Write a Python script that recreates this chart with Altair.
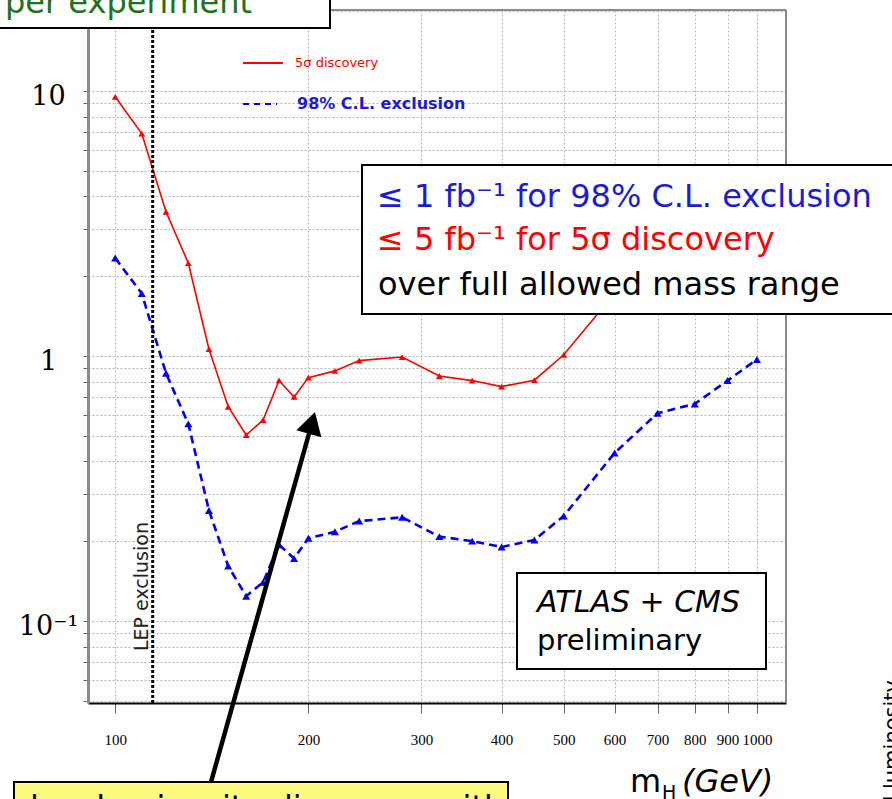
import altair as alt
import pandas as pd

# ---- data ----
mass = [100, 110, 120, 130, 140, 150, 160, 170, 180, 190, 200, 220, 240, 280,
        320, 360, 400, 450, 500, 600, 700, 800, 900, 1000]
lumi_discovery = [9.5, 6.9, 3.5, 2.24, 1.06, 0.643, 0.503, 0.573, 0.808, 0.70,
                  0.828, 0.878, 0.96, 0.99, 0.84, 0.807, 0.766, 0.81, 1.01,
                  1.72, 2.4, 3.0, 3.6, 4.2]
lumi_exclusion = [2.34, 1.72, 0.86, 0.554, 0.261, 0.161, 0.124, 0.14, 0.194,
                  0.172, 0.205, 0.217, 0.238, 0.246, 0.208, 0.2, 0.19, 0.202,
                  0.249, 0.43, 0.608, 0.659, 0.807, 0.97]
lep_limit = [114.4]
x_ticks = [100, 200, 300, 400, 500, 600, 700, 800, 900, 1000]
y_grid = [0.05, 0.06, 0.07, 0.08, 0.09,
          0.1, 0.2, 0.3, 0.4, 0.5, 0.6, 0.7, 0.8, 0.9,
          1, 2, 3, 4, 5, 6, 7, 8, 9, 10, 20]

df = pd.DataFrame({"mass": mass, "disc": lumi_discovery, "excl": lumi_exclusion})
lep = pd.DataFrame({"m": lep_limit})
one = pd.DataFrame({"k": [0]})

W, H = 698, 693
RED = "#ff0000"
BLUE = "#0000f0"
BLUE_TXT = "#1c1cd0"
SANS = "DejaVu Sans"

xs = alt.Scale(type="log", domain=[90.7, 1110], nice=False)
ys = alt.Scale(type="log", domain=[0.049, 20.2], nice=False)

x_axis = alt.Axis(values=x_ticks, format="d", labelFont="Liberation Serif",
                  labelFontSize=15, labelPadding=19, tickSize=10, tickColor="#666",
                  domainColor="black", domainWidth=2, gridColor="#b8b8b8",
                  gridDash=[2, 2], title=None, labelOverlap=False, labelFlush=False,
                  labelColor="black")
y_axis = alt.Axis(values=y_grid,
                  labelExpr="datum.value == 10 ? '10' : datum.value == 1 ? '1' : datum.value == 0.1 ? '10⁻¹' : ''",
                  labelFont="DejaVu Serif", labelFontSize=27, labelAlign="center",
                  labelPadding=35, labelOffset=6, tickSize=5, tickColor="#666",
                  domainColor="#8a8a8a", domainWidth=3, gridColor="#b8b8b8",
                  gridDash=[2, 2], title=None, labelOverlap=False, labelColor="black")


def rule(x1, y1, x2, y2, **kw):
    return alt.Chart(one).mark_rule(**kw).encode(
        x=alt.value(x1), y=alt.value(y1), x2=alt.value(x2), y2=alt.value(y2))


def text(t, x, y, **kw):
    return alt.Chart(one).mark_text(text=t, **kw).encode(x=alt.value(x), y=alt.value(y))


def box(x1, y1, x2, y2, fill="white"):
    return alt.Chart(one).mark_rect(fill=fill, stroke="black", strokeWidth=2).encode(
        x=alt.value(x1), x2=alt.value(x2), y=alt.value(y1), y2=alt.value(y2))


# frame (top and right)
frame_top = rule(0, 0, W, 0, color="#8a8a8a", strokeWidth=2)
frame_right = rule(W, 0, W, H, color="#8a8a8a", strokeWidth=2)

base = alt.Chart(df)
excl_line = base.mark_line(color=BLUE, strokeWidth=2.6, strokeDash=[8, 5]).encode(
    x=alt.X("mass:Q", scale=xs, axis=x_axis),
    y=alt.Y("excl:Q", scale=ys, axis=y_axis))
excl_pts = base.mark_point(shape="triangle-up", filled=True, size=65, color=BLUE, opacity=1).encode(
    x=alt.X("mass:Q", scale=xs), y=alt.Y("excl:Q", scale=ys))
disc_line = base.mark_line(color=RED, strokeWidth=1.6).encode(
    x=alt.X("mass:Q", scale=xs), y=alt.Y("disc:Q", scale=ys))
disc_pts = base.mark_point(shape="triangle-up", filled=True, size=45, color=RED, opacity=1).encode(
    x=alt.X("mass:Q", scale=xs), y=alt.Y("disc:Q", scale=ys))

lep_rule = alt.Chart(lep).mark_rule(color="black", strokeWidth=3, strokeDash=[3, 2]).encode(
    x=alt.X("m:Q", scale=xs))
lep_text = text("LEP exclusion", 54, 641, angle=270, align="left", baseline="middle",
                fontSize=19, font=SANS, color="#222")

# legend
leg = [
    rule(155, 53, 195, 53, color=RED, strokeWidth=2),
    text("5σ discovery", 207, 53, align="left", baseline="middle", fontSize=13,
         font=SANS, color=RED),
    rule(155, 94, 189, 94, color=BLUE, strokeWidth=2, strokeDash=[6, 5]),
    text("98% C.L. exclusion", 209, 94, align="left", baseline="middle", fontSize=16,
         font=SANS, fontWeight="bold", color=BLUE_TXT),
]

# big statement box
big = [
    box(274, 155, 812, 304),
    text("≤ 1 fb⁻¹ for 98% C.L. exclusion", 289, 197, align="left", baseline="alphabetic",
         fontSize=32, font=SANS, color=BLUE_TXT),
    text("≤ 5 fb⁻¹ for 5σ discovery", 289, 240, align="left", baseline="alphabetic",
         fontSize=32, font=SANS, color=RED),
    text("over full allowed mass range", 290, 285, align="left", baseline="alphabetic",
         fontSize=32, font=SANS, color="black"),
]

atlas = [
    box(429, 563, 678, 659),
    text("ATLAS + CMS", 449, 602, align="left", baseline="alphabetic", fontSize=30,
         font=SANS, fontStyle="italic", color="black"),
    text("preliminary", 449, 640, align="left", baseline="alphabetic", fontSize=29,
         font=SANS, color="black"),
]

perexp = [
    box(-120, -60, 242, 18),
    text("per experiment", -83, 3, align="left", baseline="alphabetic", fontSize=32,
         font=SANS, color="#1f701f"),
]

yellow = [
    box(-74, 772, 420, 830, fill="#fdfa80"),
    text("low-luminosity discovery with", -58, 808, align="left", baseline="alphabetic",
         fontSize=32, font=SANS, color="black"),
]

arrow = [
    rule(123, 772, 224, 413, color="black", strokeWidth=4.5),
    alt.Chart(one).mark_point(shape="triangle-up", filled=True, size=676, color="black",
                              opacity=1, angle=15.7).encode(x=alt.value(223.9), y=alt.value(412.9)),
]

xtitle = [
    text("m", 542, 782, align="left", baseline="alphabetic", fontSize=32, font=SANS, color="black"),
    text("H", 574, 789, align="left", baseline="alphabetic", fontSize=19, font=SANS, color="black"),
    text("(GeV)", 594, 782, align="left", baseline="alphabetic", fontSize=32, font=SANS,
         fontStyle="italic", color="black"),
]

lumi = text("Integrated luminosity", 794, 670, angle=270, align="right", baseline="top",
            fontSize=21, font=SANS, color="black")

chart = alt.layer(
    frame_top, frame_right, excl_line, excl_pts, disc_line, disc_pts, lep_rule, lep_text,
    *leg, *big, *atlas, *perexp, *yellow, *arrow, *xtitle, lumi
).properties(
    width=W, height=H,
    autosize=alt.AutoSizeParams(type="none"),
    padding={"left": 88, "top": 10, "right": 106, "bottom": 96},
    background="white",
).configure_view(stroke=None)

chart.save("out.html", embed_options={"renderer": "svg", "actions": False})
